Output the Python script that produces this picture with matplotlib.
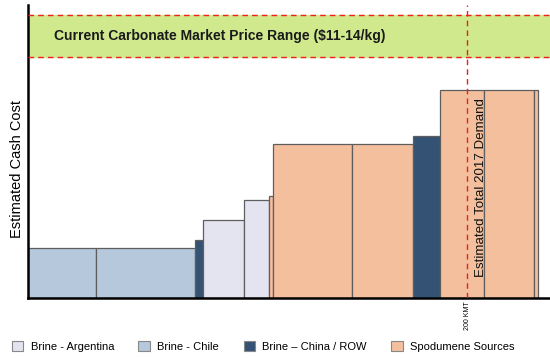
import matplotlib
matplotlib.use("Agg")
import matplotlib.pyplot as plt
from matplotlib.patches import Patch

# Supply segments along the cost curve (capacity in kMT, relative cash cost)
segment_source = ["Chile", "Chile", "China", "Argentina", "Argentina", "Spodumene",
                  "Spodumene", "Spodumene", "China", "Spodumene", "Spodumene", "Spodumene"]
segment_width = [31, 45, 3.6, 18.7, 11.4, 1.8, 36, 28, 12.3, 20, 22.8, 1.8]
segment_cost = [5.0, 5.0, 5.8, 7.8, 9.8, 10.2, 15.4, 15.4, 16.2, 20.8, 20.8, 20.8]

price_band = (24.1, 28.3)
price_label = "Current Carbonate Market Price Range ($11-14/kg)"
demand_kmt = 200
demand_label = "Estimated Total 2017 Demand"
demand_tick = "200 KMT"

colors = {
    "Argentina": "#e4e3f0",
    "Chile": "#b5c8dc",
    "China": "#345274",
    "Spodumene": "#f4bf9d",
}
legend_items = [("Argentina", "Brine - Argentina"), ("Chile", "Brine - Chile"),
                ("China", "Brine \u2013 China / ROW"), ("Spodumene", "Spodumene Sources")]

sans = ["Liberation Sans", "DejaVu Sans"]

fig = plt.figure(figsize=(5.5, 3.58), dpi=100)
ax = fig.add_axes([28 / 550, 60 / 358, 522 / 550, 293 / 358])

left = 0.0
for src, w, c in zip(segment_source, segment_width, segment_cost):
    ax.bar(left, c, width=w, align="edge", color=colors[src],
           edgecolor="#5e5e5e", linewidth=0.9, zorder=2)
    left += w

ax.axhspan(price_band[0], price_band[1], color="#d0e98c", zorder=1)
for yv in price_band:
    ax.axhline(yv, color="#ee1c25", linestyle=(0, (4, 3)), linewidth=1.0, zorder=3)
ax.text(12, sum(price_band) / 2, price_label, fontsize=10, fontweight="bold",
        family=sans, va="center", ha="left", color="#1a1a1a", zorder=4)

ax.axvline(demand_kmt, color="#ee1c25", linestyle=(0, (4, 3)), linewidth=1.0, zorder=3)
ax.text(demand_kmt + 6.5, 11.0, demand_label, rotation=90, fontsize=9.6,
        family=sans, va="center", ha="center", color="#111111", zorder=4)

ax.set_xlim(0, 237.8)
ax.set_ylim(0, 29.3)
ax.set_xticks([demand_kmt])
ax.set_xticklabels([demand_tick], rotation=90, fontsize=5, family=sans)
ax.tick_params(axis="x", length=0, pad=2)
ax.set_yticks([])
ax.set_ylabel("Estimated Cash Cost", fontsize=10.5, family=sans)
ax.yaxis.set_label_coords(-0.008, 0.44)

for s in ("top", "right"):
    ax.spines[s].set_visible(False)
ax.spines["left"].set_linewidth(1.8)
ax.spines["bottom"].set_linewidth(1.8)

handles = [Patch(facecolor=colors[k], edgecolor="#888888", linewidth=0.8, label=lab)
           for k, lab in legend_items]
fig.legend(handles=handles, loc="lower left", bbox_to_anchor=(0.003, -0.01), ncol=4,
           frameon=False, handlelength=1.0, handleheight=1.0,
           columnspacing=2.2, handletextpad=0.7, prop={"family": sans, "size": 8})

fig.savefig("out.png", dpi=100)
